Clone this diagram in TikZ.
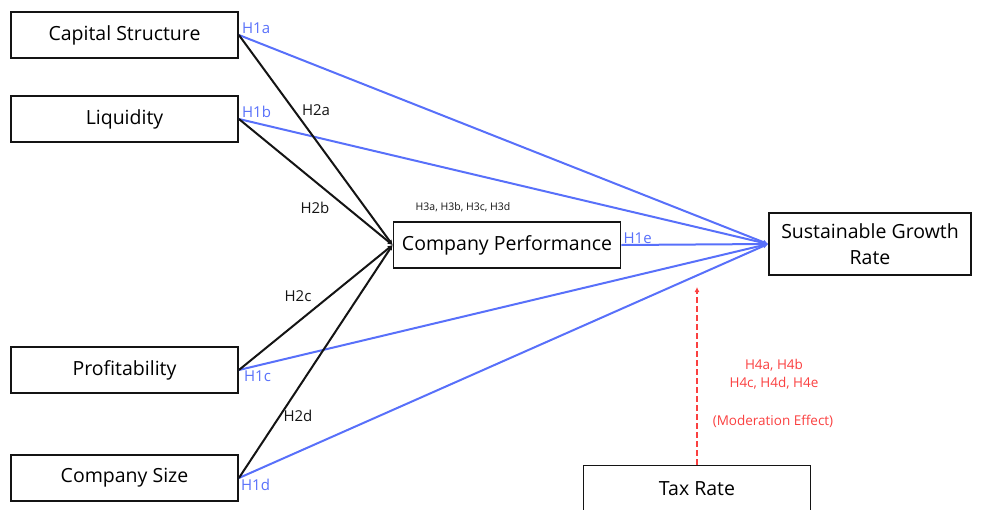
\documentclass[tikz,border=0pt]{standalone}
\usepackage{fontspec}
\setmainfont{Open Sans}
\usepackage{xcolor}
\usepackage{tikz}
\usetikzlibrary{arrows.meta,positioning}
\definecolor{hypblue}{RGB}{88,112,250}
\definecolor{hypred}{RGB}{250,64,64}
\definecolor{boxblack}{gray}{0.08}

\begin{document}
\begin{tikzpicture}[x=1pt,y=-1pt,
    varbox/.style={draw=boxblack,line width=1.8pt,minimum width=227pt,
      minimum height=46pt,inner sep=0pt,align=center,
      font=\fontsize{19.5}{26}\selectfont},
    blueline/.style={draw=hypblue,line width=2pt,-{Latex[length=5pt,width=5pt]}},
    blackline/.style={draw=boxblack,line width=2pt,-{Latex[length=5pt,width=5pt]}},
    bluelab/.style={text=hypblue,font=\fontsize{15}{17}\selectfont,inner sep=1pt},
    blacklab/.style={text=boxblack,font=\fontsize{15}{17}\selectfont,inner sep=1pt},
    redlab/.style={text=hypred,font=\fontsize{13.5}{18}\selectfont,inner sep=1pt,align=center}]
        \useasboundingbox (0,0) rectangle (984,509);
        % variables
        \node[varbox] (capital) at (124.5,35) {Capital Structure};
        \node[varbox] (liquid)  at (124.5,119) {Liquidity};
        \node[varbox] (profit)  at (124.5,370) {Profitability};
        \node[varbox] (size)    at (124.5,478) {Company Size};
        \node[varbox] (perform) at (507,245) {Company Performance};
        \node[varbox,minimum width=202pt,minimum height=62pt] (growth) at (870,244)
              {Sustainable Growth\\Rate};
        \node[varbox] (tax) at (697,488.5) {Tax Rate};
        % direct effects
        \draw[blueline] (capital.east) -- (growth.west);
        \draw[blueline] (liquid.east) -- (growth.west);
        \draw[blueline] (profit.east) -- (growth.west);
        \draw[blueline] (size.east) -- (growth.west);
        \draw[blueline] (perform.east) -- (growth.west);
        % mediation
        \draw[blackline] (capital.east) -- (perform.west);
        \draw[blackline] (liquid.east) -- (perform.west);
        \draw[blackline] (profit.east) -- (perform.west);
        \draw[blackline] (size.east) -- (perform.west);
        % moderation
        \coordinate (modtip) at (697,287);
        \draw[draw=hypred,line width=2pt,dash pattern=on 6pt off 3pt,
              -{Latex[length=5pt,width=5pt]}] (tax.north) -- (modtip);
        % labels
        \node[bluelab,anchor=south west] (h1a) at ([xshift=2pt]capital.east) {H1a};
        \node[bluelab,anchor=south west] (h1b) at ([xshift=2pt]liquid.east) {H1b};
        \node[bluelab,anchor=north west] (h1c) at ([xshift=4pt]profit.east) {H1c};
        \node[bluelab,anchor=north west] (h1d) at ([xshift=1pt]size.east) {H1d};
        \node[bluelab,anchor=south west] (h1e) at ([xshift=1pt]perform.east) {H1e};
        \node[blacklab] (h2a) at (316,110) {H2a};
        \node[blacklab] (h2b) at (315,208) {H2b};
        \node[blacklab] (h2c) at (298,296) {H2c};
        \node[blacklab] (h2d) at (298,416) {H2d};
        \node[blacklab,font=\fontsize{10.5}{12}\selectfont] (h3) at (463,207)
              {H3a, H3b, H3c, H3d};
        \node[redlab] (h4) at (774,374) {H4a, H4b\\H4c, H4d, H4e};
        \node[redlab] (moder) at (773,421) {(Moderation Effect)};
\end{tikzpicture}
\end{document}
